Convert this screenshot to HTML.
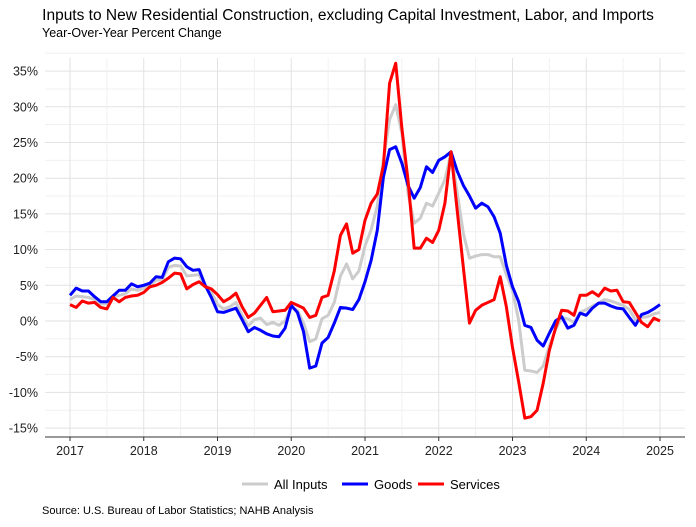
<!DOCTYPE html>
<html><head><meta charset="utf-8"><style>
body{margin:0;background:#fff;font-family:"Liberation Sans",Arial,sans-serif}
svg text{font-family:"Liberation Sans",Arial,sans-serif}
</style></head><body>
<svg id="c" width="696" height="522" viewBox="0 0 696 522" xmlns="http://www.w3.org/2000/svg">
<rect width="696" height="522" fill="#fff"/>
<text x="348" y="20" text-anchor="middle" font-size="15.5" fill="#000">Inputs to New Residential Construction, excluding Capital Investment, Labor, and Imports</text>
<text x="42" y="37" font-size="12.5" fill="#000">Year-Over-Year Percent Change</text>
<g id="grid"></g><g id="axes"></g><g id="series"></g>
<g>
<line x1="242" y1="484" x2="268" y2="484" stroke="#cccccc" stroke-width="3"/>
<text x="274" y="489" font-size="13">All Inputs</text>
<line x1="342" y1="484" x2="368" y2="484" stroke="#0000ff" stroke-width="3"/>
<text x="374" y="489" font-size="13">Goods</text>
<line x1="418" y1="484" x2="444" y2="484" stroke="#ff0000" stroke-width="3"/>
<text x="450" y="489" font-size="13">Services</text>
</g>
<text x="42" y="514" font-size="11" fill="#000">Source: U.S. Bureau of Labor Statistics; NAHB Analysis</text>
</svg>
<script>
const years=[2017,2018,2019,2020,2021,2022,2023,2024,2025];
const yTicks=[-15,-10,-5,0,5,10,15,20,25,30,35];
const allInputs=[3.0,3.5,3.4,3.3,3.0,2.4,2.4,3.4,3.6,3.8,4.5,4.3,
4.6,5.0,5.7,5.8,7.5,7.8,7.7,6.3,6.4,6.5,4.8,4.0,
2.3,1.7,2.0,2.6,0.8,-0.7,0.2,0.4,-0.5,-0.2,-0.6,0,
1.9,1.5,-0.3,-2.9,-2.5,0.3,0.8,2.6,6.3,8.0,5.9,7.0,
10.5,12.8,16.1,22.6,28.2,30.3,26.3,17.9,13.7,14.4,16.5,16.1,
17.9,19.8,23.5,18,12.3,8.8,9.1,9.3,9.3,9.0,9.0,6.5,
4.3,0.1,-6.9,-7.0,-7.2,-6.3,-3.5,-1.2,0.5,0.3,-0.2,1.2,
1.6,2.1,2.5,3.0,2.8,2.5,2.2,1.6,0.2,0.5,0.6,1.0,1.2];
const goods=[3.6,4.6,4.2,4.2,3.4,2.7,2.7,3.5,4.3,4.3,5.2,4.8,
5.0,5.3,6.2,6.1,8.3,8.8,8.7,7.6,7.1,7.2,5.0,3.3,
1.3,1.2,1.5,1.8,0.2,-1.5,-0.9,-1.3,-1.8,-2.1,-2.2,-1.0,
2.2,1.2,-1.5,-6.6,-6.3,-3.1,-2.3,-0.3,1.9,1.8,1.6,3.0,
5.5,8.5,12.7,20.2,24,24.4,22.1,19,17.2,18.7,21.6,20.8,
22.5,23,23.7,21,19,17.5,15.8,16.5,16.0,14.6,12.3,7.8,
4.8,2.7,-0.6,-0.9,-2.7,-3.5,-1.7,0,0.6,-1,-0.6,1.1,
0.8,1.8,2.5,2.5,2.1,1.8,1.7,0.5,-0.6,0.9,1.2,1.7,2.3];
const services=[2.3,1.9,2.8,2.5,2.6,1.9,1.7,3.3,2.7,3.3,3.5,3.6,
4.0,4.8,5.0,5.4,6.0,6.7,6.6,4.5,5.1,5.5,4.8,4.5,
3.7,2.7,3.2,3.9,2.0,0.5,1.1,2.2,3.3,1.3,1.4,1.5,
2.6,2.2,1.8,0.5,0.8,3.3,3.6,7,12.0,13.6,9.5,10.0,
14.1,16.5,17.8,21.8,33.3,36.1,27,19.7,10.2,10.2,11.6,11.0,
12.7,16.5,23.7,15.5,7.5,-0.3,1.5,2.2,2.6,3.0,6.2,2.0,
-3.7,-8.5,-13.6,-13.4,-12.5,-8.7,-4.1,-1,1.5,1.4,0.8,3.6,
3.6,4.1,3.5,4.6,4.2,4.3,2.7,2.6,1.2,-0.2,-0.8,0.4,0];
const X0=70,X1=660,PL=45,PR=685,PT=58,PB=437;
const x=m=>X0+(X1-X0)*m/96;
const y=v=>321-v*7.14;
const NS="http://www.w3.org/2000/svg";
function mk(tag,attrs,parent){const e=document.createElementNS(NS,tag);for(const k in attrs)e.setAttribute(k,attrs[k]);parent.appendChild(e);return e;}
const grid=document.getElementById('grid'),axes=document.getElementById('axes'),ser=document.getElementById('series');
for(let v=-15;v<=37.5;v+=2.5){const g=mk('line',{x1:PL,x2:PR,y1:y(v),y2:y(v),stroke:(v%5===0)?'#e2e2e2':'#f0f0f0','stroke-width':1},grid);

}
for(let m=-6;m<=102;m+=6){if(x(m)<PL||x(m)>PR)continue;const g=mk('line',{x1:x(m),x2:x(m),y1:PT,y2:PB,stroke:(m%12===0)?'#e2e2e2':'#f0f0f0','stroke-width':1},grid);

}
yTicks.forEach(v=>{const t=mk('text',{x:38,y:y(v)+4.5,'text-anchor':'end','font-size':12.5,fill:'#222'},axes);t.textContent=v+'%';

});
years.forEach((yr,i)=>{const t=mk('text',{x:x(i*12),y:455,'text-anchor':'middle','font-size':12.5,fill:'#222'},axes);t.textContent=yr;


const tk=mk('line',{x1:x(i*12),x2:x(i*12),y1:PB,y2:PB+4,stroke:'#333'},axes);

});
const xl=mk('line',{x1:PL,x2:PR,y1:PB,y2:PB,stroke:'#333'},axes);


function line(d,col,name){const p=mk('polyline',{points:d.map((v,i)=>x(i)+','+y(v)).join(' '),fill:'none',stroke:col,'stroke-width':3,'stroke-linejoin':'round'},ser);

}
line(allInputs,'#cccccc','all-inputs-line');
line(goods,'#0000ff','goods-line');
line(services,'#ff0000','services-line');
</script>
</body></html>
